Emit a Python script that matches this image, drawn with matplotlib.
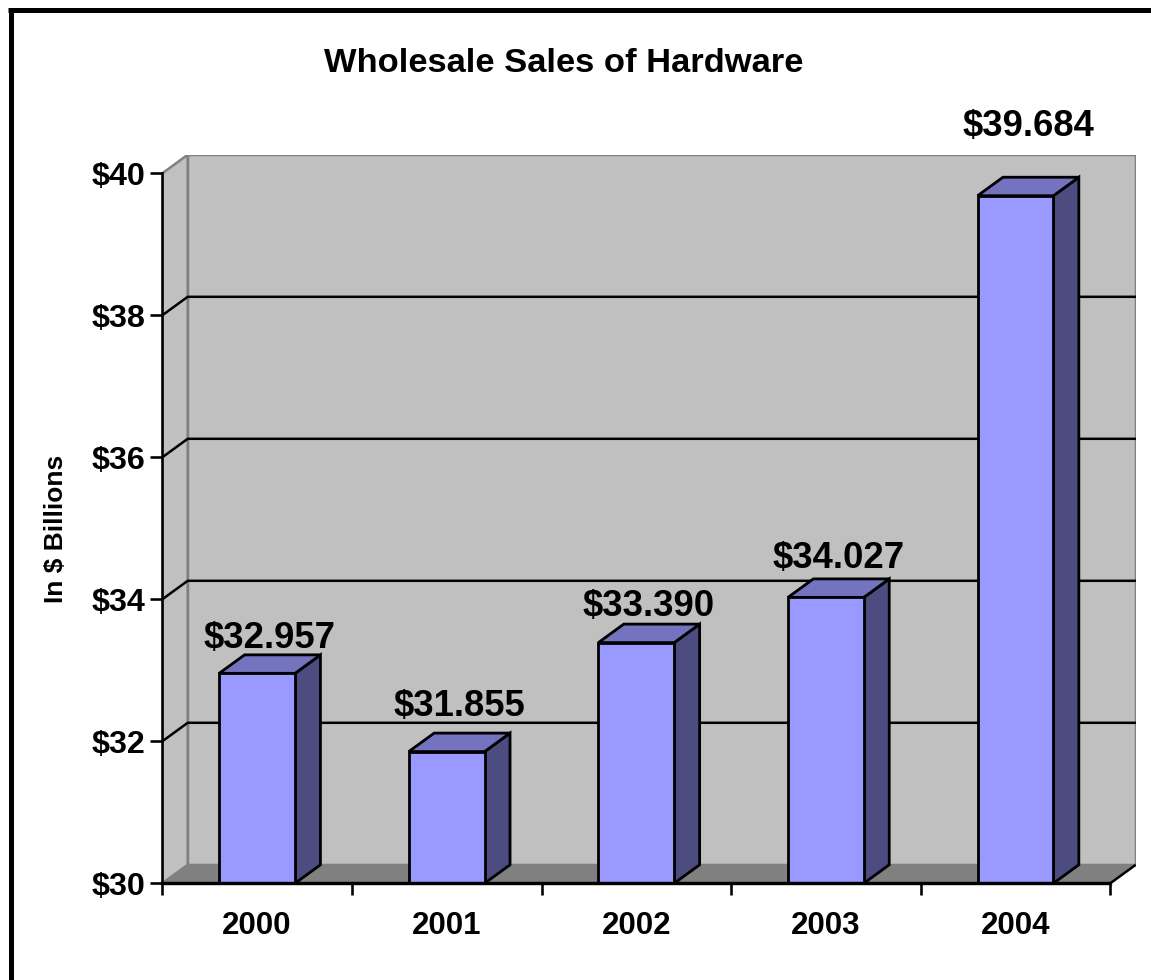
import matplotlib
matplotlib.use('Agg')
import matplotlib.pyplot as plt
from matplotlib.patches import Polygon, Rectangle
from matplotlib.lines import Line2D
import numpy as np

plt.rcParams['font.family'] = ['Liberation Sans', 'DejaVu Sans']
plt.rcParams['font.weight'] = 'bold'

#### Data
years = ['2000', '2001', '2002', '2003', '2004']
sales = [32.957, 31.855, 33.390, 34.027, 39.684]   # $ billions
yticks = [30, 32, 34, 36, 38, 40]
label_lift_px = [7, 17, 8, 11, 41]   # label height above bar top (px)

#### Look
W, H, DPI = 1151, 980, 100
px = 72.0 / DPI                       # points per pixel
ymin, ymax = 30, 40
DX = 25.4 / 189.6                     # depth in category units
DY = 18.5 / 71.0                      # depth in value units
bar_w = 0.4
wall_c = '#c0c0c0'
floor_c = '#808080'
edge_gray = '#808080'
front_c = '#9999ff'
top_c = '#7373c0'
side_c = '#4c4c80'
bar_lw = 2.8 * px

fig = plt.figure(figsize=(W / DPI, H / DPI), dpi=DPI)
left, right = 162.3, 1135.7
bottom, top = 883.3, 154.8
ax = fig.add_axes([left / W, 1 - bottom / H, (right - left) / W, (bottom - top) / H])
ax.set_xlim(-0.5, len(years) - 0.5 + DX)
ax.set_ylim(ymin, ymax + DY)
ax.patch.set_visible(False)

x0, x1 = -0.5, len(years) - 0.5

# back wall, side wall and floor
ax.add_patch(Rectangle((x0 + DX, ymin + DY), x1 - x0, ymax - ymin, fc=wall_c, ec=edge_gray, lw=2.5 * px, zorder=1))
ax.add_patch(Polygon([(x0, ymin), (x0 + DX, ymin + DY), (x0 + DX, ymax + DY), (x0, ymax)],
                     closed=True, fc=wall_c, ec=edge_gray, lw=2.5 * px, zorder=1))
ax.add_patch(Polygon([(x0, ymin), (x1, ymin), (x1 + DX, ymin + DY), (x0 + DX, ymin + DY)],
                     closed=True, fc=floor_c, ec=edge_gray, lw=1.5 * px, zorder=2))
ax.plot([x1, x1 + DX], [ymin, ymin + DY], color='black', lw=2.5 * px, zorder=2, solid_capstyle='butt')

# gridlines: across the side wall then the back wall
for y in yticks[1:-1]:
    ax.plot([x0, x0 + DX, x1 + DX], [y, y + DY, y + DY], color='black', lw=2.5 * px, zorder=3)

# 3d bars
for i, v in enumerate(sales):
    a, b = i - bar_w / 2, i + bar_w / 2
    ax.add_patch(Polygon([(b, ymin), (b + DX, ymin + DY), (b + DX, v + DY), (b, v)],
                         closed=True, fc=side_c, ec='black', lw=bar_lw, joinstyle='miter', zorder=4))
    ax.add_patch(Polygon([(a, v), (b, v), (b + DX, v + DY), (a + DX, v + DY)],
                         closed=True, fc=top_c, ec='black', lw=bar_lw, joinstyle='miter', zorder=4))
    ax.add_patch(Rectangle((a, ymin), bar_w, v - ymin, fc=front_c, ec='black', lw=bar_lw,
                           joinstyle='miter', zorder=5))
    ax.annotate('${:.3f}'.format(v), xy=(i + DX / 2, v + DY), xytext=(0, label_lift_px[i] * px),
                textcoords='offset points', ha='center', va='baseline',
                fontsize=26.3, fontweight='bold', zorder=6, annotation_clip=False)

# axes
for s in ['top', 'right']:
    ax.spines[s].set_visible(False)
ax.spines['left'].set_bounds(ymin, ymax)
ax.spines['left'].set_linewidth(2.6 * px)
ax.spines['bottom'].set_bounds(x0, x1)
ax.spines['bottom'].set_linewidth(3.4 * px)
for s in ['left', 'bottom']:
    ax.spines[s].set_zorder(7)

ax.set_yticks(yticks)
ax.set_yticklabels(['${}'.format(t) for t in yticks])
ax.tick_params(axis='y', direction='out', length=12 * px, width=2.6 * px, pad=5 * px, labelsize=23.2)

ax.set_xticks(np.arange(len(years) + 1) - 0.5)
ax.set_xticklabels([])
ax.set_xticks(np.arange(len(years)), minor=True)
ax.set_xticklabels(years, minor=True)
ax.tick_params(axis='x', which='major', direction='out', length=12 * px, width=2.6 * px)
ax.tick_params(axis='x', which='minor', length=0, pad=28 * px, labelsize=22.5)
for lab in ax.get_xticklabels(minor=True) + ax.get_yticklabels():
    lab.set_fontweight('bold')

fig.text(564 / W, 1 - 72 / H, 'Wholesale Sales of Hardware', ha='center', va='baseline',
         fontsize=24.8, fontweight='bold')
fig.text(56 / W, 1 - 529 / H, 'In $ Billions', rotation=90, ha='center', va='center',
         fontsize=19, fontweight='bold')

# outer frame (left and top edges)
fig.add_artist(Line2D([10.5 / W, 10.5 / W], [0, 1 - 8 / H], transform=fig.transFigure,
                      color='black', lw=5 * px, solid_capstyle='butt'))
fig.add_artist(Line2D([8 / W, 1], [1 - 10.5 / H, 1 - 10.5 / H], transform=fig.transFigure,
                      color='black', lw=5 * px, solid_capstyle='butt'))

fig.savefig('out.png', dpi=DPI)
